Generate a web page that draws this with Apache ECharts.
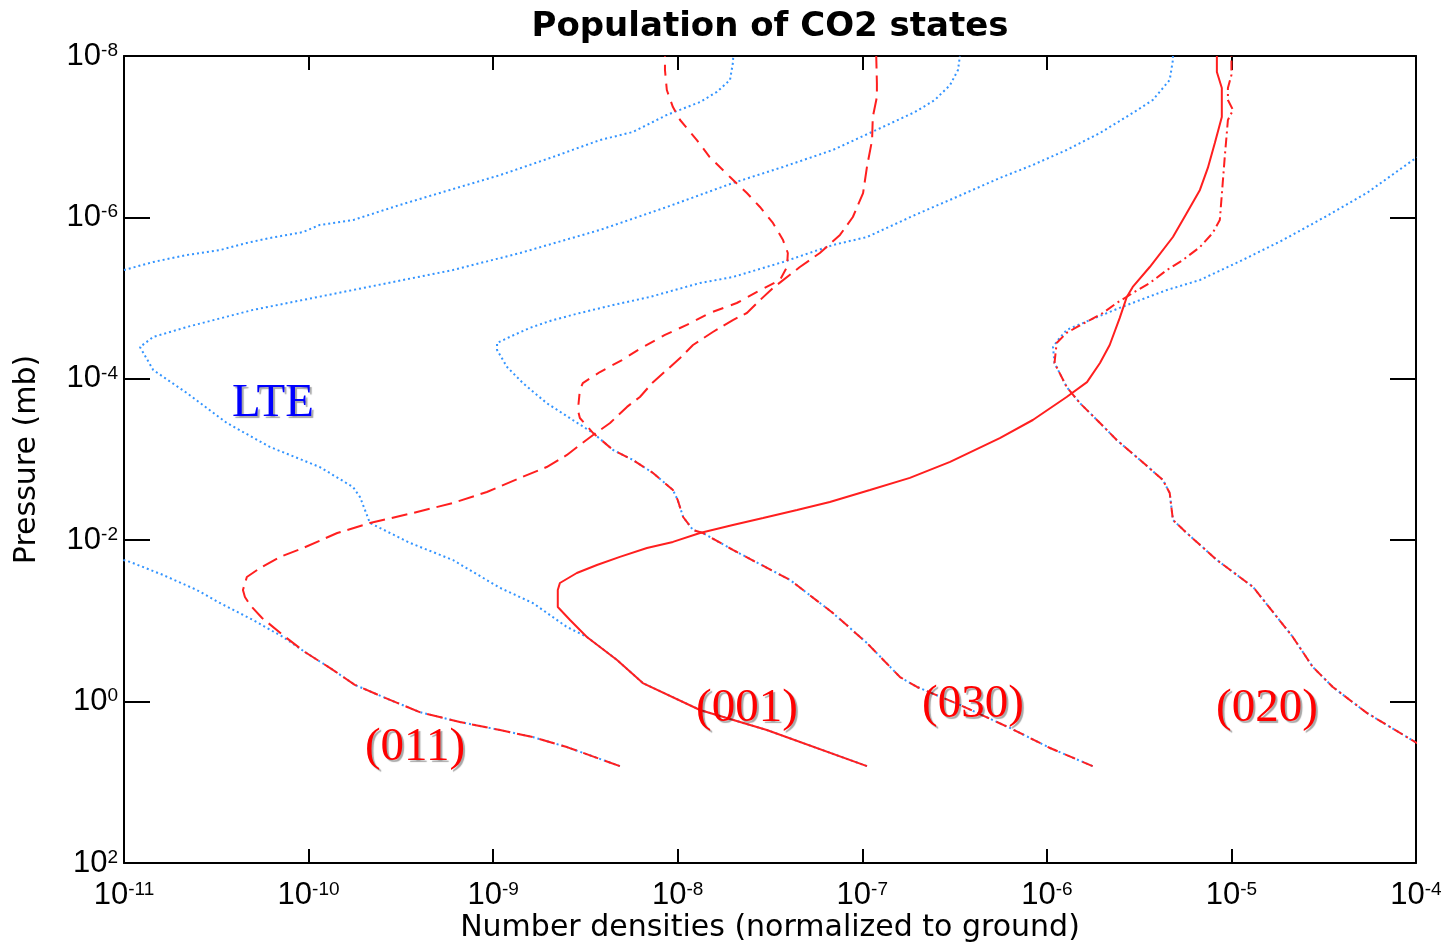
<!DOCTYPE html>
<html>
<head>
<meta charset="utf-8">
<script src="https://cdn.jsdelivr.net/npm/echarts/dist/echarts.min.js"></script>
<style>
  html, body { margin: 0; padding: 0; background: #fff; }
  #chart { width: 1450px; height: 950px; }
</style>
</head>
<body>
<div id="chart"></div>
<script>
// ---------------- data (x = number density normalised to ground, y = pressure in mb) ----------------
const titleText = 'Population of CO2 states';
const xAxisName = 'Number densities (normalized to ground)';
const yAxisName = 'Pressure (mb)';
const curveLabels = ['LTE', '(011)', '(001)', '(030)', '(020)'];

// LTE populations (blue dotted)
const lte011 = [
  [4.86e-9, 6.3], [2.51e-9, 3.66], [1.64e-9, 2.75], [1.09e-9, 2.25], [6.6e-10, 1.79], [4.0e-10, 1.35],
  [2.6e-10, 0.90], [1.78e-10, 0.62], [1.31e-10, 0.384], [9.55e-11, 0.243], [7.26e-11, 0.158],
  [5.0e-11, 0.0975], [3.31e-11, 0.060], [2.48e-11, 0.0414], [1.63e-11, 0.027], [1.08e-11, 0.0186],
  [7.4e-12, 0.0144], [7.4e-12, 5.0e-6],
  [1.0e-11, 4.49e-6], [1.44e-11, 3.57e-6], [2.19e-11, 2.92e-6], [3.31e-11, 2.54e-6], [4.63e-11, 2.07e-6],
  [6.18e-11, 1.80e-6], [9.33e-11, 1.52e-6], [1.15e-10, 1.24e-6], [1.74e-10, 1.08e-6], [3.13e-10, 7.0e-7],
  [5.83e-10, 4.57e-7], [1.09e-9, 2.99e-7], [2.03e-9, 1.84e-7], [3.79e-9, 1.10e-7], [5.71e-9, 8.75e-8],
  [8.73e-9, 5.38e-8], [1.32e-8, 3.72e-8], [1.63e-8, 2.79e-8], [1.92e-8, 1.98e-8], [1.99e-8, 1.22e-8],
  [2.0e-8, 1.0e-8]
];
const lte001 = [
  [1.06e-7, 6.3], [3.04e-8, 2.25], [1.32e-8, 1.27], [6.47e-9, 0.589], [4.69e-9, 0.305], [3.22e-9, 0.158],
  [2.51e-9, 0.119], [1.64e-9, 0.060], [1.09e-9, 0.039], [6.05e-10, 0.0176], [3.54e-10, 0.0108],
  [2.15e-10, 6.12e-3], [1.90e-10, 2.92e-3], [1.74e-10, 2.19e-3], [1.15e-10, 1.24e-3], [6.18e-11, 7.0e-4],
  [3.61e-11, 3.53e-4], [2.19e-11, 1.50e-4], [1.44e-11, 7.78e-5], [1.22e-11, 4.04e-5], [1.44e-11, 3.03e-5],
  [2.19e-11, 2.28e-5], [5.0e-11, 1.40e-5], [1.74e-10, 7.94e-6], [6.05e-10, 4.49e-6], [1.40e-9, 2.76e-6],
  [3.79e-9, 1.43e-6], [8.73e-9, 7.43e-7], [1.99e-8, 3.75e-7], [3.72e-8, 2.37e-7], [6.93e-8, 1.46e-7],
  [1.29e-7, 7.59e-8], [1.93e-7, 4.94e-8], [2.47e-7, 3.51e-8], [2.99e-7, 2.29e-8], [3.30e-7, 1.49e-8],
  [3.38e-7, 1.0e-8]
];
const lte030 = [
  [1.77e-6, 6.3], [1.04e-6, 3.76], [6.31e-7, 2.12], [3.38e-7, 1.10], [1.98e-7, 0.659], [1.60e-7, 0.496],
  [1.06e-7, 0.188], [6.93e-8, 0.0798], [4.06e-8, 0.0311], [1.99e-8, 0.0132], [1.37e-8, 8.15e-3],
  [1.21e-8, 7.48e-3], [1.07e-8, 5.16e-3], [1.0e-8, 3.18e-3], [9.42e-9, 2.39e-3], [7.35e-9, 1.47e-3],
  [5.71e-9, 1.01e-3], [4.46e-9, 7.62e-4], [3.48e-9, 4.70e-4], [2.70e-9, 3.24e-4], [1.95e-9, 2.0e-4],
  [1.45e-9, 1.13e-4], [1.19e-9, 7.15e-5], [1.05e-9, 4.40e-5], [1.05e-9, 3.60e-5], [1.23e-9, 3.03e-5],
  [1.58e-9, 2.34e-5], [2.11e-9, 1.87e-5], [2.95e-9, 1.53e-5], [4.46e-9, 1.22e-5], [7.06e-9, 9.68e-6],
  [1.32e-8, 6.50e-6], [1.99e-8, 5.48e-6], [3.72e-8, 3.57e-6], [6.93e-8, 2.20e-6], [1.06e-7, 1.75e-6],
  [1.93e-7, 9.33e-7], [3.25e-7, 5.58e-7], [5.56e-7, 3.25e-7], [8.39e-7, 2.24e-7], [1.28e-6, 1.46e-7],
  [1.94e-6, 9.0e-8], [2.92e-6, 5.08e-8], [3.75e-6, 3.51e-8], [4.63e-6, 1.98e-8], [4.82e-6, 1.12e-8],
  [4.82e-6, 1.0e-8]
];
const lte020 = [
  [1.6e-4, 6.3], [1.01e-4, 3.26], [5.41e-5, 1.38], [3.54e-5, 0.659], [2.76e-5, 0.373], [2.15e-5, 0.158],
  [1.31e-5, 0.038], [8.34e-6, 0.0176], [5.73e-6, 8.15e-3], [4.82e-6, 5.62e-3], [4.63e-6, 2.60e-3],
  [4.25e-6, 1.79e-3], [3.19e-6, 1.01e-3], [2.39e-6, 5.73e-4], [1.94e-6, 3.53e-4], [1.51e-6, 2.0e-4],
  [1.28e-6, 1.26e-4], [1.10e-6, 6.37e-5], [1.08e-6, 4.04e-5], [1.15e-6, 3.30e-5], [1.28e-6, 2.48e-5],
  [1.71e-6, 1.87e-5], [2.71e-6, 1.22e-5], [4.47e-6, 7.94e-6], [6.75e-6, 5.97e-6], [1.15e-5, 3.37e-6],
  [1.90e-5, 1.91e-6], [3.13e-5, 1.02e-6], [5.41e-5, 4.99e-7], [9.62e-5, 1.95e-7], [1.35e-4, 1.27e-7]
];

// non-LTE populations (red)
const nlte011 = [
  [4.86e-9, 6.3], [2.51e-9, 3.66], [1.64e-9, 2.75], [1.09e-9, 2.25], [6.6e-10, 1.79], [4.0e-10, 1.35],
  [2.6e-10, 0.90], [1.78e-10, 0.62], [1.31e-10, 0.384], [9.55e-11, 0.243], [7.26e-11, 0.150],
  [5.6e-11, 0.092], [4.82e-11, 0.0636], [4.52e-11, 0.0506], [4.41e-11, 0.0414], [4.63e-11, 0.0286],
  [5.46e-11, 0.0221], [7.0e-11, 0.0161], [9.33e-11, 0.0125], [1.43e-10, 8.15e-3], [2.15e-10, 6.12e-3],
  [3.68e-10, 4.60e-3], [6.05e-10, 3.46e-3], [9.25e-10, 2.53e-3], [1.40e-9, 1.69e-3], [1.95e-9, 1.24e-3],
  [2.51e-9, 8.79e-4], [2.95e-9, 6.61e-4], [3.48e-9, 4.97e-4], [4.30e-9, 3.53e-4], [5.31e-9, 2.23e-4],
  [6.24e-9, 1.68e-4], [7.35e-9, 1.10e-4], [8.73e-9, 7.78e-5], [1.03e-8, 5.52e-5], [1.21e-8, 3.81e-5],
  [1.55e-8, 2.63e-5], [1.99e-8, 1.87e-5], [2.37e-8, 1.53e-5], [2.79e-8, 1.06e-5], [3.28e-8, 7.5e-6],
  [4.59e-8, 4.12e-6], [5.89e-8, 2.76e-6], [7.57e-8, 1.65e-6], [8.89e-8, 9.89e-7], [1.01e-7, 4.99e-7],
  [1.06e-7, 2.37e-7], [1.13e-7, 1.10e-7], [1.14e-7, 5.70e-8], [1.20e-7, 3.22e-8], [1.20e-7, 2.16e-8],
  [1.19e-7, 1.0e-8]
];
const nlte001 = [
  [1.06e-7, 6.3], [3.04e-8, 2.25], [1.32e-8, 1.27], [6.47e-9, 0.589], [4.69e-9, 0.305], [3.22e-9, 0.158],
  [2.61e-9, 0.0975], [2.24e-9, 0.0673], [2.24e-9, 0.0414], [2.30e-9, 0.0339], [2.84e-9, 0.0255],
  [3.65e-9, 0.0203], [4.86e-9, 0.0161], [6.81e-9, 0.0125], [9.42e-9, 0.0105], [1.32e-8, 8.15e-3],
  [1.99e-8, 6.49e-3], [2.90e-8, 5.31e-3], [4.43e-8, 4.23e-3], [6.67e-8, 3.37e-3], [1.10e-7, 2.39e-3],
  [1.81e-7, 1.69e-3], [2.99e-7, 1.07e-3], [5.56e-7, 5.42e-4], [8.39e-7, 3.24e-4], [1.28e-6, 1.68e-4],
  [1.65e-6, 1.10e-4], [1.94e-6, 6.37e-5], [2.19e-6, 3.81e-5], [2.48e-6, 1.77e-5], [2.71e-6, 9.68e-6],
  [2.92e-6, 7.28e-6], [3.61e-6, 4.12e-6], [4.82e-6, 1.75e-6], [5.73e-6, 8.81e-7], [6.75e-6, 4.57e-7],
  [7.45e-6, 2.44e-7], [8.13e-6, 1.20e-7], [8.87e-6, 5.70e-8], [8.87e-6, 2.49e-8], [8.34e-6, 1.58e-8],
  [8.34e-6, 1.0e-8]
];
const nlte030 = [
  [1.77e-6, 6.3], [1.04e-6, 3.76], [6.31e-7, 2.12], [3.38e-7, 1.10], [1.98e-7, 0.659], [1.60e-7, 0.496],
  [1.06e-7, 0.188], [6.93e-8, 0.0798], [4.06e-8, 0.0311], [1.99e-8, 0.0132], [1.37e-8, 8.15e-3],
  [1.21e-8, 7.48e-3], [1.07e-8, 5.16e-3], [1.0e-8, 3.18e-3], [9.42e-9, 2.39e-3], [7.35e-9, 1.47e-3],
  [5.71e-9, 1.01e-3], [4.46e-9, 7.62e-4], [3.48e-9, 4.70e-4], [2.95e-9, 3.06e-4], [2.88e-9, 2.44e-4],
  [2.95e-9, 1.38e-4], [3.06e-9, 1.13e-4], [3.79e-9, 8.24e-5], [4.99e-9, 5.85e-5], [6.47e-9, 4.04e-5],
  [8.53e-9, 2.86e-5], [1.12e-8, 2.15e-5], [1.49e-8, 1.53e-5], [2.09e-8, 1.15e-5], [2.69e-8, 8.39e-6],
  [3.58e-8, 5.97e-6], [3.91e-8, 4.12e-6], [3.95e-8, 2.76e-6], [3.72e-8, 1.91e-6], [3.28e-8, 1.17e-6],
  [2.79e-8, 7.43e-7], [2.37e-8, 4.99e-7], [1.92e-8, 3.16e-7], [1.49e-8, 1.79e-7], [1.27e-8, 1.10e-7],
  [1.03e-8, 6.21e-8], [9.42e-9, 4.29e-8], [8.73e-9, 2.64e-8], [8.53e-9, 1.49e-8], [8.53e-9, 1.0e-8]
];
const nlte020 = [
  [1.6e-4, 6.3], [1.01e-4, 3.26], [5.41e-5, 1.38], [3.54e-5, 0.659], [2.76e-5, 0.373], [2.15e-5, 0.158],
  [1.31e-5, 0.038], [8.34e-6, 0.0176], [5.73e-6, 8.15e-3], [4.82e-6, 5.62e-3], [4.63e-6, 2.60e-3],
  [4.25e-6, 1.79e-3], [3.19e-6, 1.01e-3], [2.39e-6, 5.73e-4], [1.94e-6, 3.53e-4], [1.51e-6, 2.0e-4],
  [1.28e-6, 1.26e-4], [1.10e-6, 6.37e-5], [1.13e-6, 3.60e-5], [1.28e-6, 2.70e-5], [1.46e-6, 2.28e-5],
  [1.71e-6, 1.87e-5], [2.01e-6, 1.53e-5], [2.39e-6, 1.15e-5], [2.92e-6, 8.65e-6], [3.61e-6, 6.50e-6],
  [4.47e-6, 4.49e-6], [5.46e-6, 3.37e-6], [6.75e-6, 2.33e-6], [7.92e-6, 1.56e-6], [8.65e-6, 1.08e-6],
  [8.97e-6, 3.75e-7], [9.2e-6, 1.79e-7], [9.44e-6, 9.0e-8], [9.57e-6, 6.21e-8], [1.02e-5, 4.67e-8],
  [9.57e-6, 3.51e-8], [9.57e-6, 2.49e-8], [1.0e-5, 1.72e-8], [1.0e-5, 1.0e-8]
];

// ---------------- chart ----------------
const BLUE = '#3394ff';
const RED = '#ff1f1f';
const tickFont = '"Liberation Sans", Arial, Helvetica, sans-serif';
const powRich = {
  s: { fontSize: 19, fontFamily: tickFont, color: '#000', lineHeight: 30, verticalAlign: 'top' }
};
function powLabel(v) {
  const e = Math.round(Math.log10(v));
  return '10{s|' + e + '}';
}
const boxLine = { show: true, onZero: false, lineStyle: { color: '#000', width: 2 } };

const chart = echarts.init(document.getElementById('chart'), null, { renderer: 'canvas' });

function ser(name, data, color, type, z) {
  return {
    name: name, type: 'line', data: data, xAxisIndex: 0, yAxisIndex: 0,
    showSymbol: false, symbol: 'none', smooth: false, clip: true, z: z,
    lineStyle: { color: color, width: 2, type: type },
    emphasis: { disabled: true }
  };
}
function label(text, x, y, color) {
  return {
    type: 'text', x: x, y: y, z: 10,
    style: {
      text: text, fill: color, font: '47px "Liberation Serif", "Times New Roman", serif',
      align: 'center', verticalAlign: 'middle',
      textShadowColor: 'rgba(0,0,0,0.35)', textShadowOffsetX: 2, textShadowOffsetY: 2, textShadowBlur: 1
    }
  };
}

const option = {
  animation: false,
  backgroundColor: '#fff',
  title: {
    text: titleText, left: 765, top: 5, textAlign: 'center',
    textStyle: { fontFamily: '"DejaVu Sans", sans-serif', fontWeight: 'bold', fontSize: 34, color: '#000' }
  },
  grid: { left: 124, right: 34, top: 56, bottom: 87, containLabel: false, outerBoundsMode: 'none' },
  xAxis: [
    {
      type: 'log', logBase: 10, min: 1e-11, max: 1e-4, position: 'bottom',
      axisLine: boxLine,
      axisTick: { show: true, inside: true, length: 14, lineStyle: { color: '#000', width: 2 } },
      minorTick: { show: false }, splitLine: { show: false },
      axisLabel: { formatter: powLabel, rich: powRich, margin: 17, color: '#000',
                   fontSize: 31, fontFamily: tickFont, lineHeight: 30, verticalAlign: 'top' },
      name: xAxisName, nameLocation: 'middle', nameGap: 50, nameMoveOverlap: false,
      nameTextStyle: { fontFamily: '"DejaVu Sans", sans-serif', fontSize: 30, color: '#000' }
    },
    {
      type: 'log', logBase: 10, min: 1e-11, max: 1e-4, position: 'top',
      axisLine: boxLine,
      axisTick: { show: true, inside: true, length: 14, lineStyle: { color: '#000', width: 2 } },
      minorTick: { show: false }, splitLine: { show: false }, axisLabel: { show: false }
    }
  ],
  yAxis: [
    {
      type: 'log', logBase: 100, min: 1e-8, max: 1e2, inverse: true, position: 'left',
      axisLine: boxLine,
      axisTick: { show: true, inside: true, length: 26, lineStyle: { color: '#000', width: 2 } },
      minorTick: { show: false }, splitLine: { show: false },
      axisLabel: { formatter: powLabel, rich: powRich, margin: 6, color: '#000',
                   fontSize: 31, fontFamily: tickFont, lineHeight: 30 },
      name: yAxisName, nameLocation: 'middle', nameGap: 82, nameRotate: 90, nameMoveOverlap: false,
      nameTextStyle: { fontFamily: '"DejaVu Sans", sans-serif', fontSize: 30, color: '#000' }
    },
    {
      type: 'log', logBase: 100, min: 1e-8, max: 1e2, inverse: true, position: 'right',
      axisLine: boxLine,
      axisTick: { show: true, inside: true, length: 26, lineStyle: { color: '#000', width: 2 } },
      minorTick: { show: false }, splitLine: { show: false }, axisLabel: { show: false }
    }
  ],
  series: [
    ser('LTE (011)', lte011, BLUE, [2, 3], 2),
    ser('LTE (001)', lte001, BLUE, [2, 3], 2),
    ser('LTE (030)', lte030, BLUE, [2, 3], 2),
    ser('LTE (020)', lte020, BLUE, [2, 3], 2),
    ser('(011)', nlte011, RED, [16, 7], 3),
    ser('(001)', nlte001, RED, 'solid', 3),
    ser('(030)', nlte030, RED, [11, 8], 3),
    ser('(020)', nlte020, RED, [10, 4, 2, 4], 3)
  ],
  graphic: [
    label(curveLabels[0], 273, 404, '#0000ff'),
    label(curveLabels[1], 415, 748, '#ff0000'),
    label(curveLabels[2], 747, 709, '#ff0000'),
    label(curveLabels[3], 973, 705, '#ff0000'),
    label(curveLabels[4], 1267, 709, '#ff0000')
  ]
};
chart.setOption(option);
</script>
</body>
</html>
